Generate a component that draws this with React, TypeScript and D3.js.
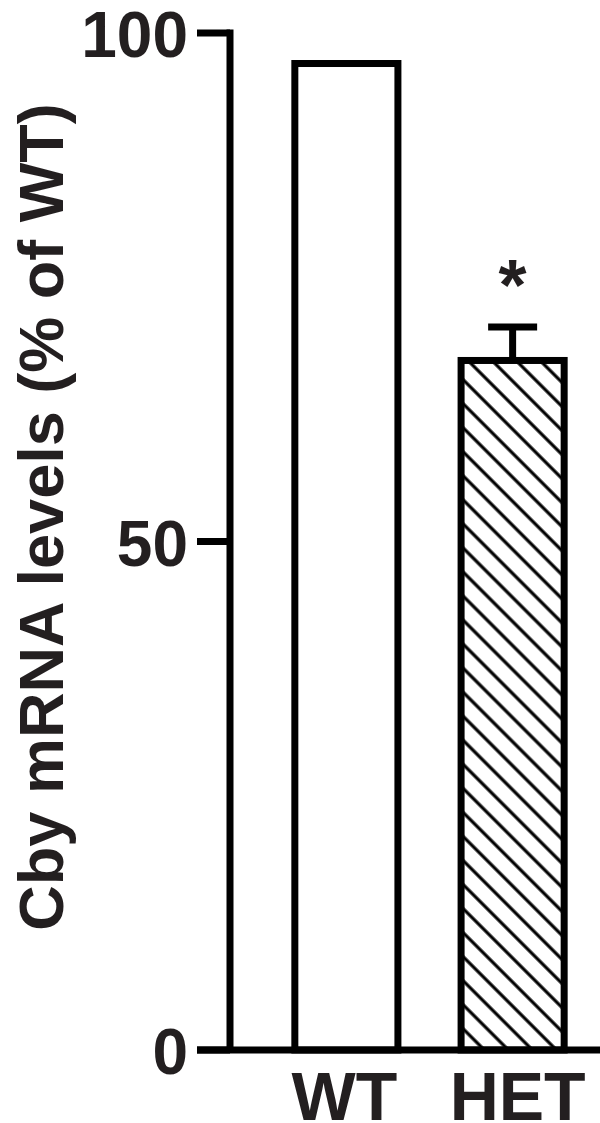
import React from "react";
import * as d3 from "d3";

const categories = ["WT", "HET"];
const values = [97, 67.8];
const errors = [0, 3.3];
const significance = ["", "*"];
const yTicks = [0, 50, 100];
const yTitle = "Cby mRNA levels (% of WT)";

const W = 600;
const H = 1123;
const FONT = "'Liberation Sans', Arial, Helvetica, sans-serif";
const INK = "#000";
const TXT = "#231f20";

export default function App() {
  const y = d3.scaleLinear().domain([0, 100]).range([1050, 33]);
  const x = d3
    .scaleBand<string>()
    .domain(categories)
    .range([230, 629])
    .paddingInner(0.38)
    .paddingOuter(0.39);
  const axisX = 230;
  const sw = 7;

  return (
    <svg
      width={W}
      height={H}
      style={{ position: "absolute", left: 0, top: 0, background: "#fff" }}
    >
      <defs>
        <pattern
          id="hatch"
          patternUnits="userSpaceOnUse"
          width={17}
          height={17}
          patternTransform="rotate(-45)"
        >
          <rect width={17} height={17} fill="#fff" />
          <line x1={8} y1={-1} x2={8} y2={18} stroke={INK} strokeWidth={3.2} />
        </pattern>
      </defs>

      {/* bars */}
      {categories.map((c, i) => {
        const x0 = x(c)!;
        const bw = x.bandwidth();
        const top = y(values[i]);
        return (
          <g key={c}>
            {errors[i] > 0 && (
              <g>
                <line
                  x1={x0 + bw / 2}
                  x2={x0 + bw / 2}
                  y1={top}
                  y2={y(values[i] + errors[i])}
                  stroke={INK}
                  strokeWidth={sw}
                />
                <line
                  x1={x0 + bw / 2 - 24.5}
                  x2={x0 + bw / 2 + 24.5}
                  y1={y(values[i] + errors[i])}
                  y2={y(values[i] + errors[i])}
                  stroke={INK}
                  strokeWidth={sw}
                />
              </g>
            )}
            <rect
              x={x0}
              y={top}
              width={bw}
              height={y(0) - top}
              fill={i === 0 ? "#fff" : "url(#hatch)"}
              stroke={INK}
              strokeWidth={sw}
            />
            {significance[i] && (
              <text
                x={x0 + bw / 2}
                y={y(values[i] + errors[i]) - 17}
                textAnchor="middle"
                fontFamily={FONT}
                fontWeight="bold"
                fontSize={72}
                fill={TXT}
              >
                {significance[i]}
              </text>
            )}
            <text
              x={x0 + bw / 2 + (i === 0 ? -2 : 5)}
              y={1120}
              textAnchor="middle"
              fontFamily={FONT}
              fontWeight="bold"
              fontSize={68}
              fill={TXT}
            >
              {c}
            </text>
          </g>
        );
      })}

      {/* axes */}
      <line
        x1={axisX}
        x2={axisX}
        y1={y(100) - sw / 2}
        y2={y(0)}
        stroke={INK}
        strokeWidth={sw}
      />
      <line x1={197} x2={W} y1={y(0)} y2={y(0)} stroke={INK} strokeWidth={sw} />
      {yTicks.map((t) => (
        <g key={t}>
          <line x1={197} x2={axisX} y1={y(t)} y2={y(t)} stroke={INK} strokeWidth={sw} />
          <text
            x={188}
            y={y(t) + 24}
            textAnchor="end"
            fontFamily={FONT}
            fontWeight="bold"
            fontSize={64}
            fill={TXT}
          >
            {t}
          </text>
        </g>
      ))}

      <text
        transform={`translate(63, 517) rotate(-90)`}
        textAnchor="middle"
        fontFamily={FONT}
        fontWeight="bold"
        fontSize={63}
        fill={TXT}
      >
        {yTitle}
      </text>
    </svg>
  );
}
